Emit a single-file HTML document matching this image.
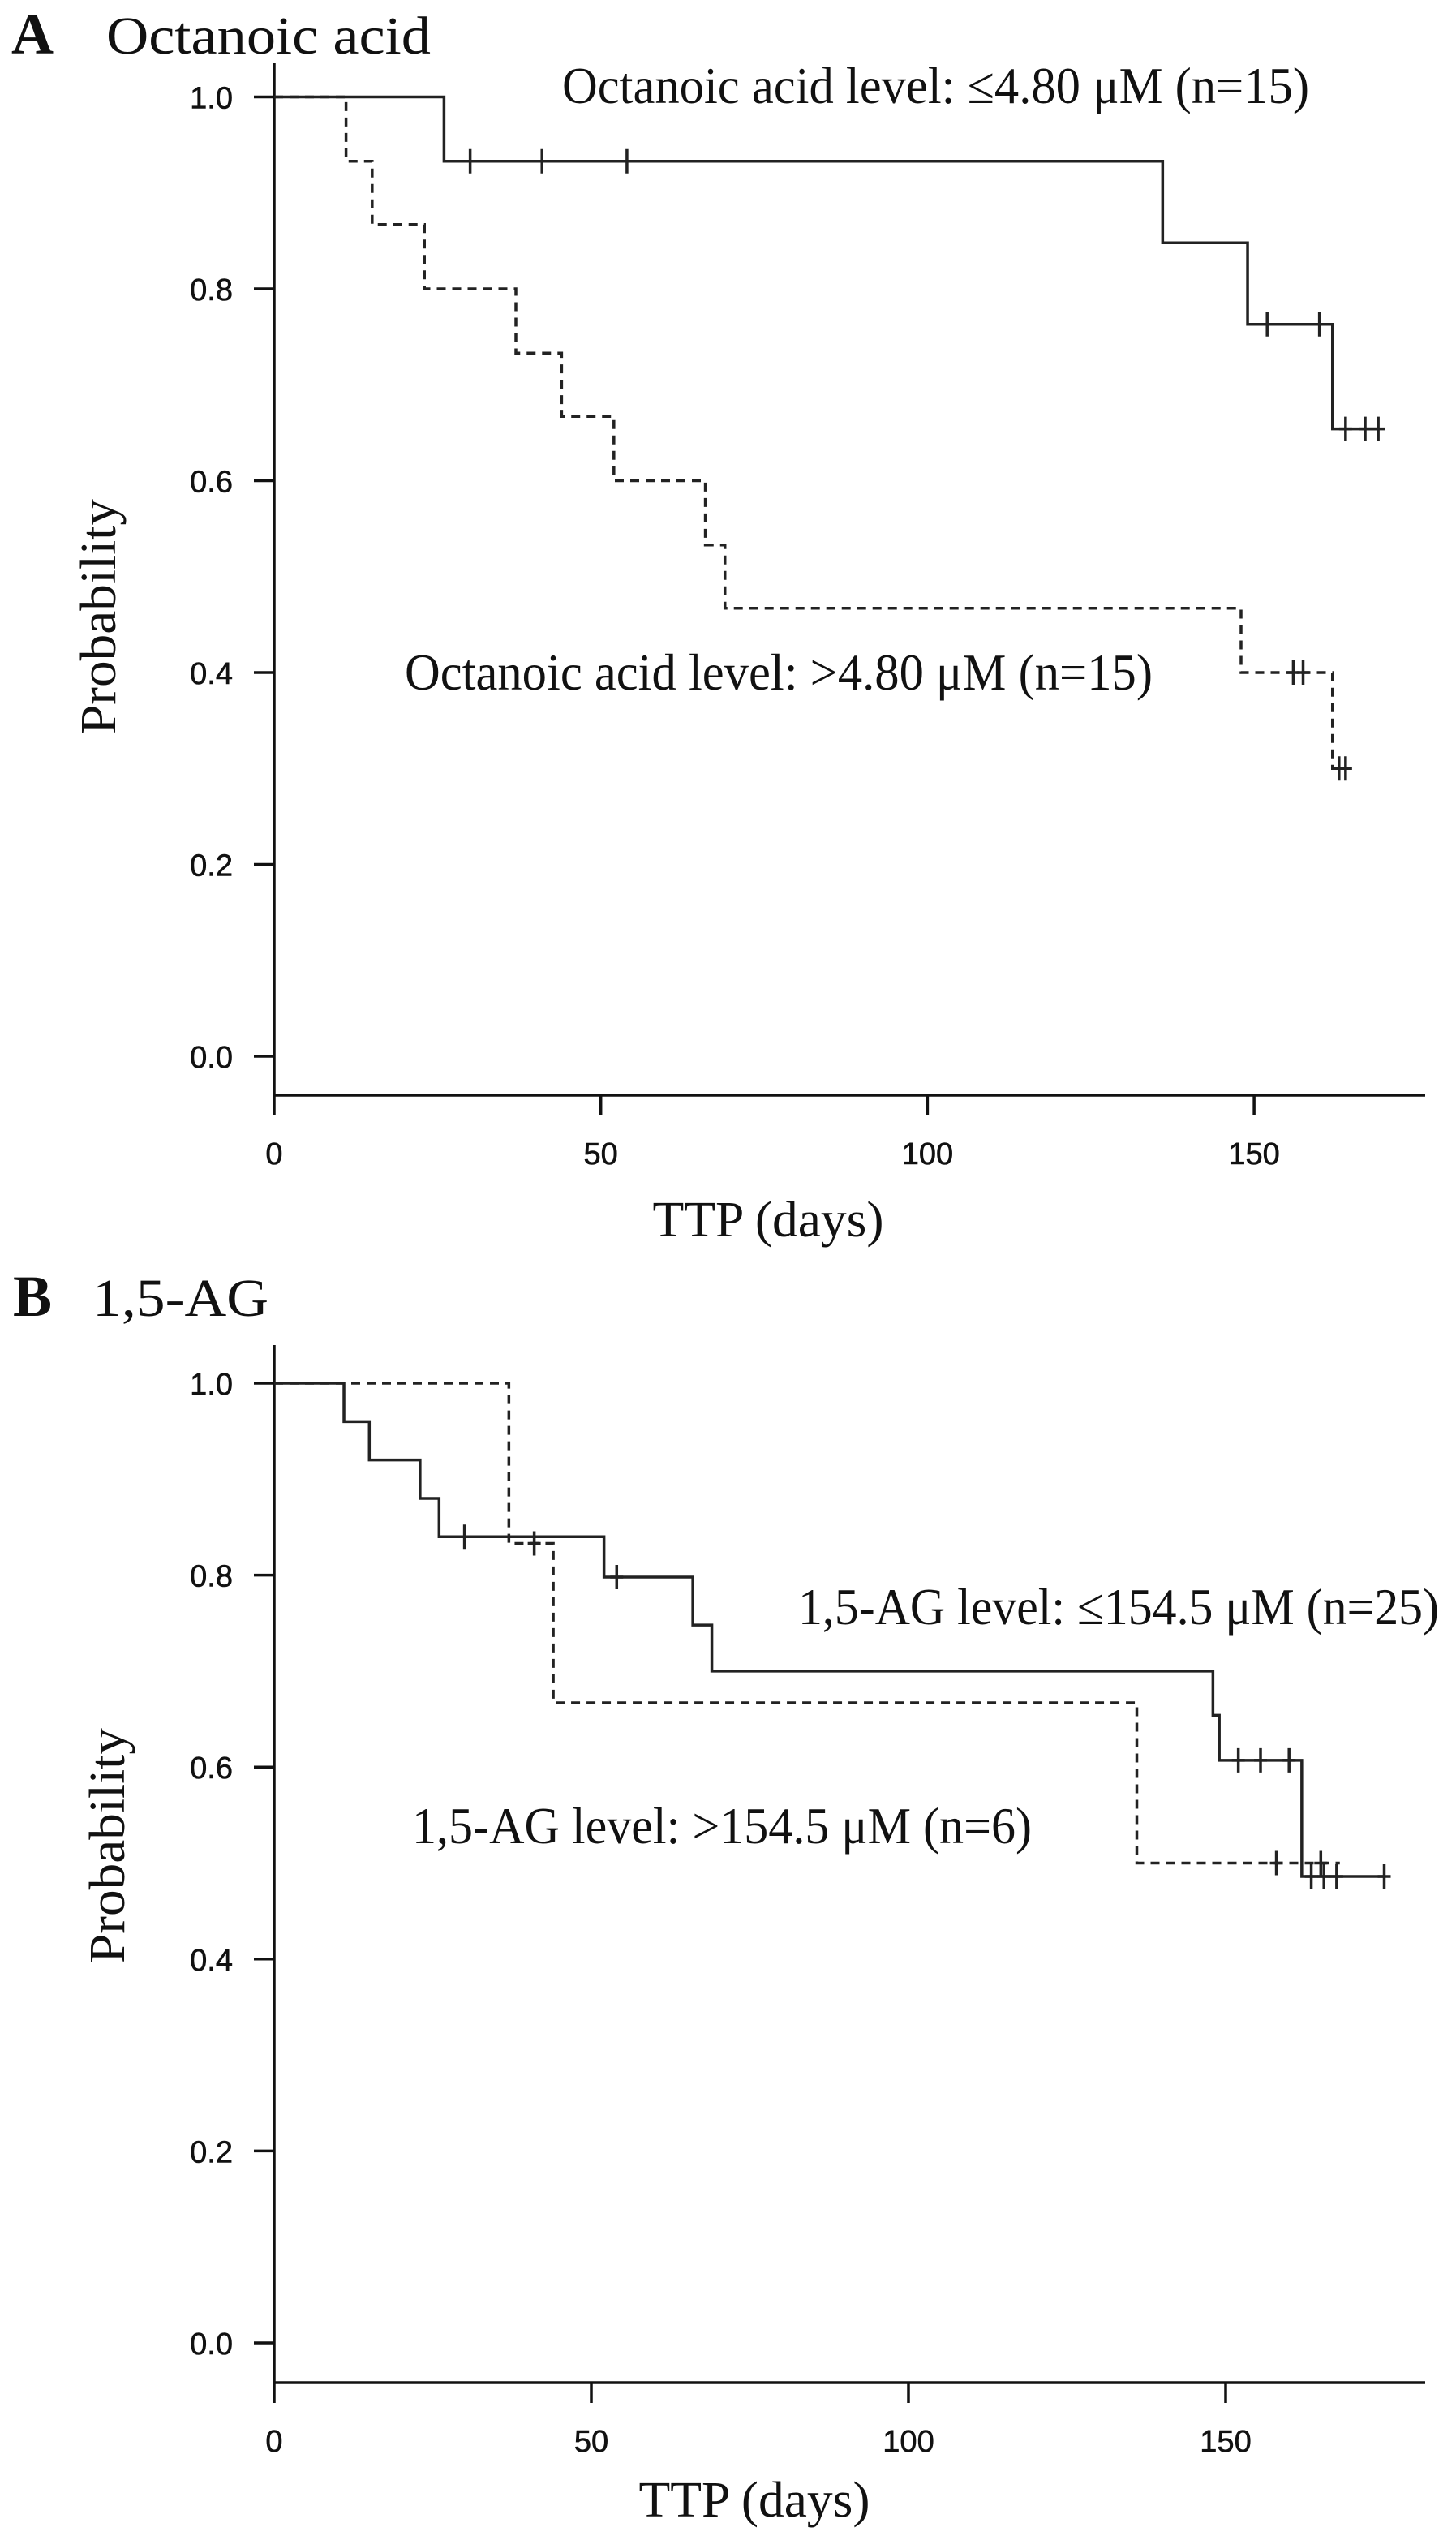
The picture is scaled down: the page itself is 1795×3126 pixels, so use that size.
<!DOCTYPE html>
<html><head><meta charset="utf-8"><style>
html,body{margin:0;padding:0;background:#fff}
svg{display:block}
.tk{font-family:"Liberation Sans",Arial,sans-serif;font-size:38px;fill:#111;stroke:#111;stroke-width:0.6}
.sf{font-family:"Liberation Serif","Times New Roman",serif;fill:#111}
</style></head><body>
<svg id="chart" width="1795" height="3126" viewBox="0 0 1795 3126" xmlns="http://www.w3.org/2000/svg"></svg>
<script>
// Panel A data (Octanoic acid)
const aLowTimes = [0, 26, 136, 149, 162, 169];
const aLowSurv = [1.0, 0.933, 0.848, 0.763, 0.654, 0.654];
const aLowCens = [30, 41, 54, 152, 160, 164, 167, 169];
const aHighTimes = [0, 11, 15, 23, 37, 44, 52, 66, 69, 148, 162, 164];
const aHighSurv = [1.0, 0.933, 0.867, 0.8, 0.733, 0.667, 0.6, 0.533, 0.467, 0.4, 0.3, 0.3];
const aHighCens = [156, 157.5, 163, 164];
// Panel B data (1,5-AG)
const bLowTimes = [0, 11, 15, 23, 26, 52, 66, 69, 148, 149, 162, 175];
const bLowSurv = [1.0, 0.96, 0.92, 0.88, 0.84, 0.798, 0.748, 0.70, 0.654, 0.607, 0.486, 0.486];
const bLowCens = [30, 54, 152, 155.5, 160, 163.5, 165.5, 167.5, 175];
const bHighTimes = [0, 37, 44, 136, 168];
const bHighSurv = [1.0, 0.833, 0.667, 0.5, 0.5];
const bHighCens = [41, 158, 165];
const xTicks = [0, 50, 100, 150];
const yTicks = [0.0, 0.2, 0.4, 0.6, 0.8, 1.0];

const NS = "http://www.w3.org/2000/svg";
const svg = document.getElementById('chart');
function mk(tag, attrs, parent) {
  const e = document.createElementNS(NS, tag);
  for (const k in attrs) e.setAttribute(k, attrs[k]);
  (parent || svg).appendChild(e);
  return e;
}
function panel(cfg) {
  const g = mk('g', {});
  
  
  const sx = d => cfg.x0 + d * cfg.pxPerDay;
  const sy = p => cfg.y0 - p * cfg.pxPerUnit;
  const ax = mk('path', {d: `M${cfg.x0} ${cfg.yTop}V${cfg.xAxisY}H${cfg.xEnd}`, stroke: '#111', 'stroke-width': 3.5, fill: 'none'}, g);
  
  
  yTicks.forEach(v => {
    const y = sy(v);
    mk('line', {x1: cfg.x0 - 25, x2: cfg.x0, y1: y, y2: y, stroke: '#111', 'stroke-width': 3.5}, g);
    const t = mk('text', {x: 287, y: y + 14, 'text-anchor': 'end', class: 'tk'}, g);
    t.textContent = v.toFixed(1);
    
    
  });
  xTicks.forEach(v => {
    const x = sx(v);
    mk('line', {x1: x, x2: x, y1: cfg.xAxisY, y2: cfg.xAxisY + 25, stroke: '#111', 'stroke-width': 3.5}, g);
    const t = mk('text', {x: x, y: cfg.xAxisY + 85, 'text-anchor': 'middle', class: 'tk'}, g);
    t.textContent = String(v);
    
    
  });
  cfg.series.forEach(s => {
    let d = `M${sx(s.t[0])} ${sy(s.s[0])}`;
    for (let i = 1; i < s.t.length; i++) {
      d += `H${sx(s.t[i])}V${sy(s.s[i])}`;
    }
    const p = mk('path', {d: d, fill: 'none', stroke: '#222', 'stroke-width': 3.5}, g);
    if (s.dash) p.setAttribute('stroke-dasharray', '11 8');
    
    
    s.c.forEach(c => {
      let v = s.s[0];
      for (let i = 0; i < s.t.length; i++) if (s.t[i] <= c) v = s.s[i];
      const x = sx(c), y = sy(v);
      const m = mk('path', {d: `M${x} ${y - 15}V${y + 15}M${x - 8} ${y}H${x + 8}`, stroke: '#222', 'stroke-width': 3.5}, g);
      
      
    });
  });
  cfg.texts.forEach(tx => {
    const t = mk('text', tx.a, g);
    if (tx.a.textLength) t.setAttribute('lengthAdjust', 'spacingAndGlyphs');
    t.textContent = tx.s;
    
    
  });
}
panel({name: 'panel-a', x0: 338, y0: 1302, pxPerDay: 402.7 / 50, pxPerUnit: 1182.5, yTop: 78, xAxisY: 1350, xEnd: 1757,
  series: [
    {name: 'series-low-octanoic', t: aLowTimes, s: aLowSurv, c: aLowCens, dash: false},
    {name: 'series-high-octanoic', t: aHighTimes, s: aHighSurv, c: aHighCens, dash: true}],
  texts: [
    {n: 'panel-letter-a', s: 'A', a: {x: 14, y: 66, class: 'sf', 'font-size': 72, 'font-weight': 'bold'}},
    {n: 'panel-title-a', s: 'Octanoic acid', a: {x: 131, y: 66, class: 'sf', 'font-size': 66, textLength: 400}},
    {n: 'legend-low', s: 'Octanoic acid level: ≤4.80 μM (n=15)', a: {x: 693, y: 127, class: 'sf', 'font-size': 64, textLength: 921}},
    {n: 'legend-high', s: 'Octanoic acid level: >4.80 μM (n=15)', a: {x: 499, y: 850, class: 'sf', 'font-size': 64, textLength: 922}},
    {n: 'x-axis-title', s: 'TTP (days)', a: {x: 947, y: 1524, class: 'sf', 'font-size': 62, 'text-anchor': 'middle', textLength: 285}},
    {n: 'y-axis-title', s: 'Probability', a: {x: 0, y: 0, class: 'sf', 'font-size': 62, 'text-anchor': 'middle', textLength: 290, transform: 'translate(142 760) rotate(-90)'}}]
});
panel({name: 'panel-b', x0: 338, y0: 2888, pxPerDay: 391 / 50, pxPerUnit: 1183, yTop: 1658, xAxisY: 2937, xEnd: 1757,
  series: [
    {name: 'series-low-15ag', t: bLowTimes, s: bLowSurv, c: bLowCens, dash: false},
    {name: 'series-high-15ag', t: bHighTimes, s: bHighSurv, c: bHighCens, dash: true}],
  texts: [
    {n: 'panel-letter-b', s: 'B', a: {x: 16, y: 1622, class: 'sf', 'font-size': 72, 'font-weight': 'bold'}},
    {n: 'panel-title-b', s: '1,5-AG', a: {x: 114, y: 1622, class: 'sf', 'font-size': 66, textLength: 217}},
    {n: 'legend-low', s: '1,5-AG level: ≤154.5 μM (n=25)', a: {x: 984, y: 2002, class: 'sf', 'font-size': 64, textLength: 790}},
    {n: 'legend-high', s: '1,5-AG level: >154.5 μM (n=6)', a: {x: 508, y: 2272, class: 'sf', 'font-size': 64, textLength: 764}},
    {n: 'x-axis-title', s: 'TTP (days)', a: {x: 930, y: 3102, class: 'sf', 'font-size': 62, 'text-anchor': 'middle', textLength: 285}},
    {n: 'y-axis-title', s: 'Probability', a: {x: 0, y: 0, class: 'sf', 'font-size': 62, 'text-anchor': 'middle', textLength: 290, transform: 'translate(153 2275) rotate(-90)'}}]
});
</script>
</body></html>
